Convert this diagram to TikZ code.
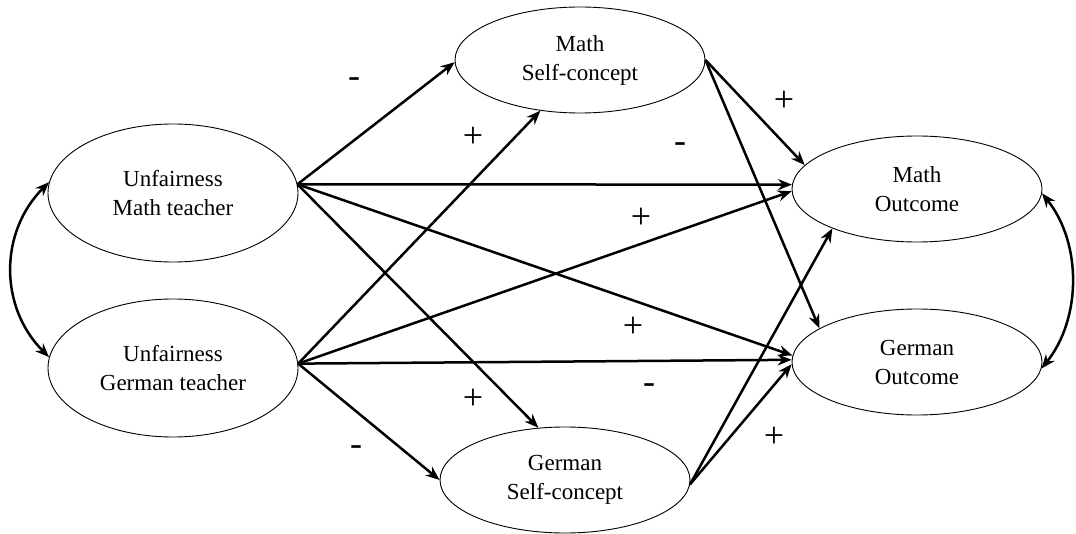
\documentclass[tikz,border=0pt]{standalone}
\usepackage{fontspec}
\setmainfont{Liberation Serif}
\usetikzlibrary{arrows.meta, shapes.geometric}

\begin{document}
\begin{tikzpicture}[x=0.5pt, y=-0.5pt,
  latent/.style={draw, ellipse, line width=0.45pt, inner sep=0pt, minimum width=125pt,
    minimum height=53pt, align=center, font=\fontsize{11.5}{14.5}\selectfont},
  wide/.style={latent, minimum height=69pt},
  effect/.style={line width=1.25pt, -{Stealth[length=7pt, width=5.5pt]}},
  cov/.style={line width=1.25pt, {Stealth[length=7pt, width=5.5pt]}-{Stealth[length=7pt, width=5.5pt]}},
  sign/.style={font=\fontsize{18}{18}\selectfont, inner sep=0pt}]

  \useasboundingbox (0,0) rectangle (1076,534);

  % --- predictors ---
  \node[wide] (um) at (173,193) {Unfairness\\Math teacher};
  \node[wide] (ug) at (173,368) {Unfairness\\German teacher};

  % --- mediators ---
  \node[latent] (msc) at (580,60) {Math\\Self-concept};
  \node[latent] (gsc) at (565,480) {German\\Self-concept};

  % --- outcomes ---
  \node[latent] (mo) at (917,189) {Math\\Outcome};
  \node[latent] (go) at (917,362) {German\\Outcome};

  % --- paths from the predictors ---
  \draw[effect] (um.4) -- (msc.181);
  \draw[effect] (um.4) -- (mo.178);
  \draw[effect] (um.4) -- (gsc.117);
  \draw[effect] (um.4) -- (go.177);
  \draw[effect] (ug.2) -- (msc.232);
  \draw[effect] (ug.2) -- (mo.181);
  \draw[effect] (ug.2) -- (go.179);
  \draw[effect] (ug.2) -- (gsc.west);

  % --- paths from the mediators ---
  \draw[effect] (msc.east) -- (mo.168);
  \draw[effect] (msc.east) -- (go.161);
  \draw[effect] (gsc.-2) -- (mo.205);
  \draw[effect] (gsc.-2) -- (go.181);

  % --- covariances ---
  \draw[cov] (um.175) .. controls +(-50,50) and +(-50,-50) .. (ug.175);
  \draw[cov] (mo.-2) .. controls +(40,50) and +(40,-50) .. (go.-3);

  % --- signs ---
  \node[sign] (s1) at (354,83) {-};
  \node[sign] (s2) at (473,137) {+};
  \node[sign] (s3) at (680,148) {-};
  \node[sign] (s4) at (641,218) {+};
  \node[sign] (s5) at (784,101) {+};
  \node[sign] (s6) at (633,327) {+};
  \node[sign] (s7) at (649,389) {-};
  \node[sign] (s8) at (473,399) {+};
  \node[sign] (s9) at (356,451) {-};
  \node[sign] (s10) at (774,437) {+};
\end{tikzpicture}
\end{document}
